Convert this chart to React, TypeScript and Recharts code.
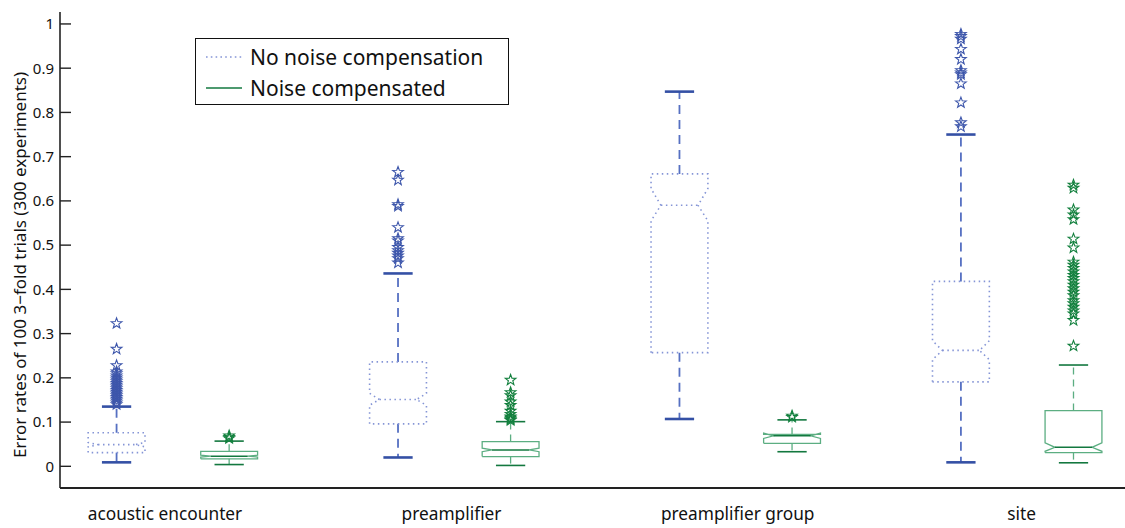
import React from 'react';
import { ComposedChart, Scatter, XAxis, YAxis, Legend } from 'recharts';

const categories = ['acoustic encounter', 'preamplifier', 'preamplifier group', 'site'];
const yTicks = [0, 0.1, 0.2, 0.3, 0.4, 0.5, 0.6, 0.7, 0.8, 0.9, 1];

// No noise compensation (blue, dotted boxes)
const rawLowWhisker = [0.009, 0.02, 0.107, 0.009];
const rawQ1 = [0.031, 0.096, 0.257, 0.191];
const rawNotchLo = [0.044, 0.138, 0.555, 0.241];
const rawMedian = [0.049, 0.151, 0.59, 0.262];
const rawNotchHi = [0.054, 0.165, 0.628, 0.284];
const rawQ3 = [0.076, 0.236, 0.661, 0.418];
const rawHighWhisker = [0.135, 0.436, 0.847, 0.75];
const rawOutliers = [
  [0.323, 0.265, 0.228, 0.214, 0.21, 0.205, 0.2, 0.196, 0.192, 0.188, 0.184, 0.18, 0.176, 0.172, 0.168, 0.164, 0.16, 0.156, 0.152, 0.148, 0.144, 0.14],
  [0.665, 0.647, 0.592, 0.588, 0.54, 0.515, 0.51, 0.495, 0.488, 0.482, 0.476, 0.47, 0.46],
  [],
  [0.977, 0.972, 0.966, 0.943, 0.92, 0.895, 0.89, 0.886, 0.865, 0.822, 0.777, 0.768],
];

// Noise compensated (green, solid boxes)
const compLowWhisker = [0.004, 0.002, 0.033, 0.008];
const compQ1 = [0.017, 0.022, 0.052, 0.031];
const compNotchLo = [0.021, 0.033, 0.063, 0.034];
const compMedian = [0.023, 0.037, 0.069, 0.043];
const compNotchHi = [0.025, 0.041, 0.075, 0.053];
const compQ3 = [0.034, 0.056, 0.072, 0.126];
const compHighWhisker = [0.057, 0.101, 0.105, 0.229];
const compOutliers = [
  [0.063, 0.066, 0.069],
  [0.195, 0.167, 0.16, 0.146, 0.138, 0.125, 0.118, 0.112, 0.109, 0.106, 0.104],
  [0.111, 0.114],
  [0.636, 0.629, 0.58, 0.569, 0.558, 0.514, 0.494, 0.462, 0.455, 0.448, 0.44, 0.432, 0.425, 0.418, 0.41, 0.402, 0.394, 0.386, 0.375, 0.368, 0.36, 0.352, 0.345, 0.33, 0.272],
];

// layout: where each category label sits on the group axis
const labelPos = [-0.028, 0.99, 2.007, 3.016];

const BOX_HALF = 0.101;
const NOTCH_HALF = 0.066;
const CAP_HALF = 0.052;
const X_DOMAIN = [-0.401, 3.383];
const Y_DOMAIN = [-0.049, 1.027];

const series = [
  {
    id: 'raw',
    name: 'No noise compensation',
    offset: -0.2,
    low: rawLowWhisker, q1: rawQ1, nlo: rawNotchLo, med: rawMedian, nhi: rawNotchHi, q3: rawQ3, high: rawHighWhisker,
    outliers: rawOutliers,
    boxLine: { stroke: '#8595d6', strokeWidth: 1.6, strokeDasharray: '1.5 3.5' },
    medLine: { stroke: '#8595d6', strokeWidth: 1.6, strokeDasharray: '1.5 3.5' },
    whisker: { stroke: '#5670c2', strokeWidth: 1.8, strokeDasharray: '9 6' },
    cap: { stroke: '#3450a5', strokeWidth: 2.6 },
    star: '#3d56ab',
  },
  {
    id: 'comp',
    name: 'Noise compensated',
    offset: 0.2,
    low: compLowWhisker, q1: compQ1, nlo: compNotchLo, med: compMedian, nhi: compNotchHi, q3: compQ3, high: compHighWhisker,
    outliers: compOutliers,
    boxLine: { stroke: '#5cae82', strokeWidth: 1.3 },
    medLine: { stroke: '#13783f', strokeWidth: 1.5 },
    whisker: { stroke: '#5cae82', strokeWidth: 1.3, strokeDasharray: '7 5' },
    cap: { stroke: '#13783f', strokeWidth: 1.6 },
    star: '#14813f',
  },
];

const noDot = () => <g />;

const starShape = (color: string) => (props: any) => {
  const { cx, cy } = props;
  if (cx == null || cy == null) return <g />;
  const r = 5.6;
  const ri = 2.3;
  let d = '';
  for (let k = 0; k < 10; k++) {
    const rad = k % 2 === 0 ? r : ri;
    const a = -Math.PI / 2 + (k * Math.PI) / 5;
    d += (k ? 'L' : 'M') + (cx + rad * Math.cos(a)).toFixed(2) + ',' + (cy + rad * Math.sin(a)).toFixed(2);
  }
  return <path d={d + 'Z'} fill="none" stroke={color} strokeWidth={1.1} />;
};

function segment(key: string, pts: { x: number; y: number }[], line: any) {
  return (
    <Scatter
      key={key}
      data={pts}
      dataKey="y"
      line={line}
      lineType="joint"
      shape={noDot}
      isAnimationActive={false}
    />
  );
}

function boxMarks(s: any, i: number) {
  const cx = i + s.offset;
  const k = `${s.id}-${i}`;
  const outline = [
    { x: cx - BOX_HALF, y: s.q1[i] },
    { x: cx - BOX_HALF, y: s.nlo[i] },
    { x: cx - NOTCH_HALF, y: s.med[i] },
    { x: cx - BOX_HALF, y: s.nhi[i] },
    { x: cx - BOX_HALF, y: s.q3[i] },
    { x: cx + BOX_HALF, y: s.q3[i] },
    { x: cx + BOX_HALF, y: s.nhi[i] },
    { x: cx + NOTCH_HALF, y: s.med[i] },
    { x: cx + BOX_HALF, y: s.nlo[i] },
    { x: cx + BOX_HALF, y: s.q1[i] },
    { x: cx - BOX_HALF, y: s.q1[i] },
  ];
  return [
    segment(k + '-wu', [{ x: cx, y: s.q3[i] }, { x: cx, y: s.high[i] }], s.whisker),
    segment(k + '-wl', [{ x: cx, y: s.q1[i] }, { x: cx, y: s.low[i] }], s.whisker),
    segment(k + '-box', outline, s.boxLine),
    segment(k + '-med', [{ x: cx - NOTCH_HALF, y: s.med[i] }, { x: cx + NOTCH_HALF, y: s.med[i] }], s.medLine),
    segment(k + '-cu', [{ x: cx - CAP_HALF, y: s.high[i] }, { x: cx + CAP_HALF, y: s.high[i] }], s.cap),
    segment(k + '-cl', [{ x: cx - CAP_HALF, y: s.low[i] }, { x: cx + CAP_HALF, y: s.low[i] }], s.cap),
    <Scatter
      key={k + '-out'}
      data={s.outliers[i].map((v: number) => ({ x: cx, y: v }))}
      dataKey="y"
      shape={starShape(s.star)}
      isAnimationActive={false}
    />,
  ];
}

const renderLegend = () => (
  <div
    style={{
      width: 314,
      height: 67,
      boxSizing: 'border-box',
      border: '1.5px solid #111',
      background: '#fff',
      fontFamily: '"Noto Sans", sans-serif',
      fontSize: 21,
      color: '#111',
      position: 'relative',
    }}
  >
    {series.map((s, idx) => (
      <div key={s.id} style={{ position: 'absolute', left: 8, top: idx === 0 ? 4 : 35, height: 28, display: 'flex', alignItems: 'center' }}>
        <svg width={40} height={10} style={{ marginRight: 6 }}>
          <line
            x1={2}
            y1={5}
            x2={38}
            y2={5}
            stroke={idx === 0 ? s.boxLine.stroke : s.cap.stroke}
            strokeWidth={idx === 0 ? 1.6 : 1.3}
            strokeDasharray={idx === 0 ? '1.6 3.2' : undefined}
          />
        </svg>
        <span style={{ lineHeight: '28px', whiteSpace: 'nowrap' }}>{s.name}</span>
      </div>
    ))}
  </div>
);

export default function App() {
  return (
    <div style={{ position: 'absolute', left: 0, top: 0, width: 1125, height: 528, background: '#fff', fontFamily: '"Noto Sans", sans-serif' }}>
      <ComposedChart width={1125} height={528} margin={{ top: 12, right: 0, bottom: 0, left: 0 }}>
        <XAxis
          dataKey="x"
          type="number"
          domain={X_DOMAIN}
          allowDataOverflow
          ticks={labelPos}
          interval={0}
          tickFormatter={(v: number) => categories[labelPos.indexOf(v)] ?? ''}
          tickLine={false}
          tickMargin={14}
          height={40}
          axisLine={{ stroke: '#222', strokeWidth: 2 }}
          tick={{ fill: '#111', fontSize: 17.3 }}
        />
        <XAxis
          xAxisId="t"
          orientation="top"
          type="number"
          domain={X_DOMAIN}
          allowDataOverflow
          height={0}
          tick={false}
          tickLine={false}
          axisLine={{ stroke: '#222', strokeWidth: 1.6 }}
        />
        <YAxis
          dataKey="y"
          type="number"
          domain={Y_DOMAIN}
          allowDataOverflow
          ticks={yTicks}
          interval={0}
          width={60}
          tickSize={-11}
          tickMargin={17}
          tickLine={{ stroke: '#222', strokeWidth: 1.4 }}
          axisLine={{ stroke: '#222', strokeWidth: 1.6 }}
          tick={{ fill: '#111', fontSize: 15 }}
          tickFormatter={(v: number) => String(v)}
          label={{
            content: (p: any) => {
              const vb = p.viewBox || { x: 0, y: 12, width: 60, height: 476 };
              const x = vb.x + 19;
              const y = vb.y + vb.height / 2 + 15;
              return (
                <text x={x} y={y} transform={`rotate(-90 ${x} ${y})`} textAnchor="middle" dominantBaseline="central" fontSize={17} fill="#111">
                  Error rates of 100 3−fold trials (300 experiments)
                </text>
              );
            },
          }}
        />
        <YAxis
          yAxisId="r"
          orientation="right"
          type="number"
          domain={Y_DOMAIN}
          allowDataOverflow
          ticks={yTicks}
          interval={0}
          width={0}
          tickSize={-6}
          tickFormatter={() => ''}
          tickLine={{ stroke: '#222', strokeWidth: 1.4 }}
          axisLine={false}
        />
        <Scatter yAxisId="r" data={[]} dataKey="y" shape={noDot} isAnimationActive={false} />
        {series.flatMap((s) => categories.flatMap((_, i) => boxMarks(s, i)))}
        <Legend
          layout="horizontal"
          verticalAlign="middle"
          align="center"
          content={renderLegend}
          wrapperStyle={{ left: 195, top: 38, width: 314, height: 67 }}
        />
      </ComposedChart>
    </div>
  );
}
